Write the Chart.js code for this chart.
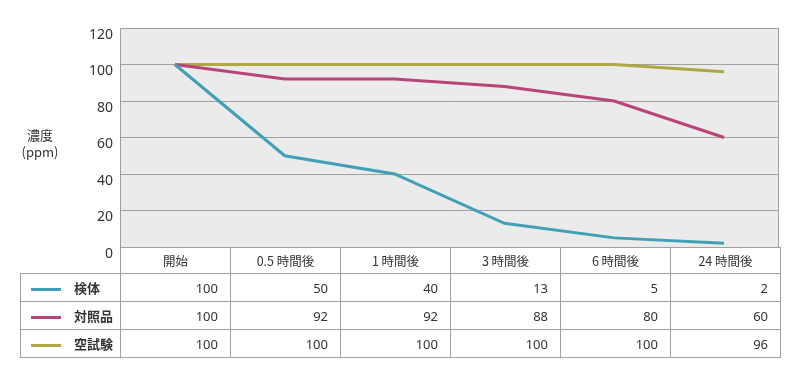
<!DOCTYPE html>
<html>
<head>
<meta charset="utf-8">
<script src="https://cdn.jsdelivr.net/npm/chart.js@4"></script>
<style>
  body { margin: 0; background: #fff; font-family: "Noto Sans CJK JP", "Noto Sans", sans-serif; }
  #wrap { position: relative; width: 800px; height: 378px; }
  #yTitle { position: absolute; left: 14px; top: 126px; width: 52px; text-align: center; font-size: 13px; line-height: 17px; color: #333; }
  #dataTable { position: absolute; left: 20px; top: 247px; border-collapse: collapse; font-size: 13px; color: #333; }
  #dataTable td { border: 1px solid #a0a0a0; height: 28px; padding: 0; box-sizing: border-box; }
  #dataTable tr.head td { height: 26px; text-align: center; font-size: 12.5px; }
  #dataTable td.num { width: 110px; text-align: right; padding-right: 12px; font-family: "Noto Sans", sans-serif; }
  #dataTable td.blank { border: none; border-right: 1px solid #a0a0a0; width: 100px; }
  #dataTable td.leg { width: 100px; font-weight: bold; }
  .swatch { display: inline-block; width: 30px; height: 3px; vertical-align: middle; margin: 0 13px 0 10px; }
</style>
</head>
<body>
<div id="wrap">
  <canvas id="chart" width="800" height="378"></canvas>
  <div id="yTitle">濃度<br>(ppm)</div>
  <table id="dataTable"></table>
</div>
<script>
const categories = ["開始", "0.5 時間後", "1 時間後", "3 時間後", "6 時間後", "24 時間後"];
const seriesNames = ["検体", "対照品", "空試験"];
const kentai = [100, 50, 40, 13, 5, 2];
const taishohin = [100, 92, 92, 88, 80, 60];
const kushiken = [100, 100, 100, 100, 100, 96];
const yTicks = [0, 20, 40, 60, 80, 100, 120];

const colors = ["#41a0b6", "#b8447a", "#aea743"];
const allSeries = [kentai, taishohin, kushiken];

// table under the chart
const table = document.getElementById("dataTable");
let html = '<tr class="head"><td class="blank"></td>';
categories.forEach(c => { html += '<td style="width:110px">' + c + '</td>'; });
html += '</tr>';
allSeries.forEach((vals, i) => {
  html += '<tr><td class="leg"><span class="swatch" style="background:' + colors[i] + '"></span>' + seriesNames[i] + '</td>';
  vals.forEach(v => { html += '<td class="num">' + v + '</td>'; });
  html += '</tr>';
});
table.innerHTML = html;

const plotBg = {
  id: 'plotBg',
  beforeDraw: (chart) => {
    const { ctx, chartArea } = chart;
    ctx.save();
    ctx.fillStyle = "#ebebeb";
    ctx.fillRect(chartArea.left, chartArea.top, chartArea.right - chartArea.left, chartArea.bottom - chartArea.top);
    ctx.strokeStyle = "#a0a0a0";
    ctx.lineWidth = 1;
    ctx.strokeRect(chartArea.left + 0.5, chartArea.top + 0.5, chartArea.right - chartArea.left - 1, chartArea.bottom - chartArea.top);
    ctx.restore();
  }
};

new Chart(document.getElementById("chart"), {
  type: "line",
  data: {
    labels: categories,
    datasets: allSeries.map((vals, i) => ({
      label: seriesNames[i],
      data: vals,
      borderColor: colors[i],
      borderWidth: 3,
      pointRadius: 0,
      tension: 0,
      fill: false
    }))
  },
  options: {
    responsive: false,
    animation: false,
    layout: { padding: { left: 0, right: 21, top: 28, bottom: 131 } },
    plugins: { legend: { display: false }, tooltip: { enabled: false } },
    scales: {
      x: {
        display: false,
        offset: true
      },
      y: {
        min: 0,
        max: 120,
        afterFit: (scale) => { scale.width = 120; },
        afterBuildTicks: (scale) => { scale.ticks = yTicks.map(v => ({ value: v })); },
        border: { display: false },
        grid: { color: "#a0a0a0", drawTicks: false },
        ticks: {
          padding: 7,
          labelOffset: 7,
          color: "#333",
          font: { size: 14, family: "'Noto Sans', sans-serif" }
        }
      }
    }
  },
  plugins: [plotBg]
});
</script>
</body>
</html>
